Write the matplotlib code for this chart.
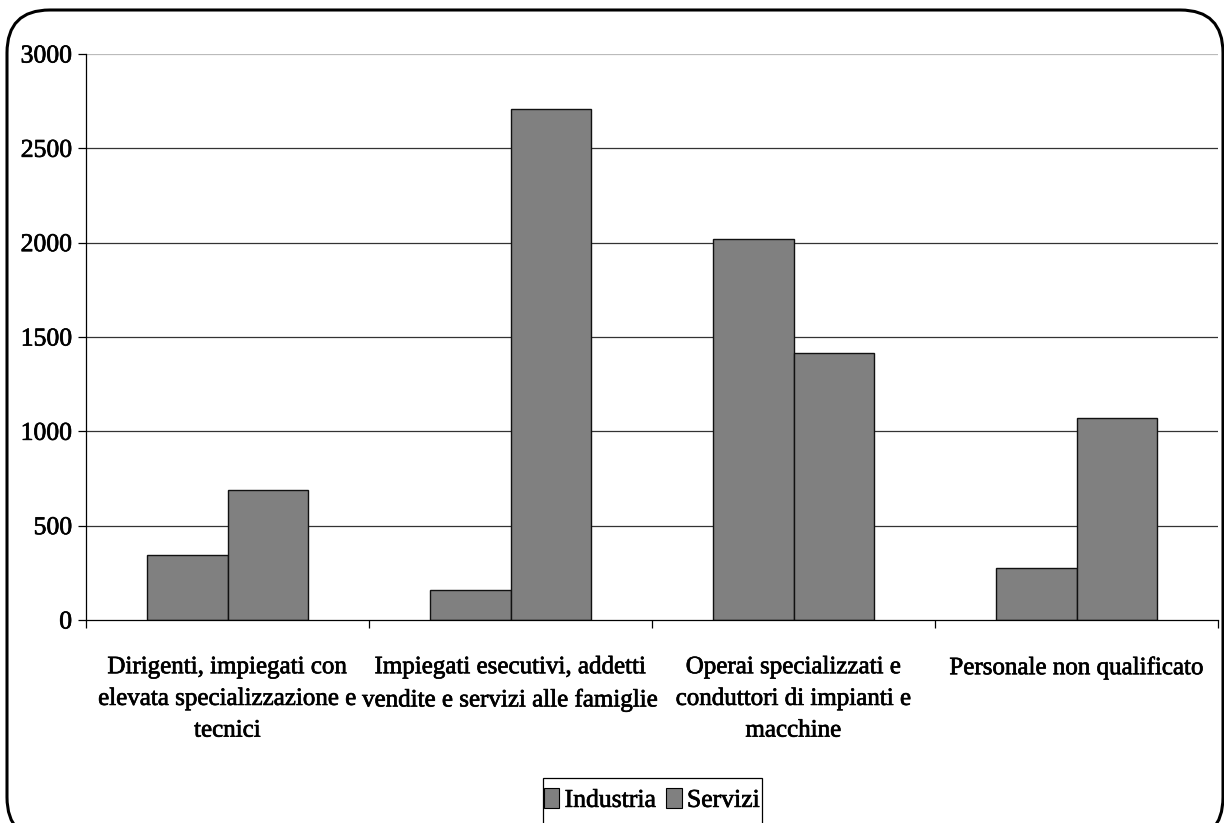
import matplotlib
matplotlib.use("Agg")
import matplotlib.pyplot as plt
import matplotlib.patheffects as pe
from matplotlib.patches import FancyBboxPatch, Patch, Rectangle
import numpy as np

# Data
categories = [
    "Dirigenti, impiegati con\nelevata specializzazione e\ntecnici",
    "Impiegati esecutivi, addetti\nvendite e servizi alle famiglie",
    "Operai specializzati e\nconduttori di impianti e\nmacchine",
    "Personale non qualificato",
]
series_names = ["Industria", "Servizi"]
industria = [342, 158, 2020, 275]
servizi = [688, 2710, 1416, 1069]
y_ticks = [0, 500, 1000, 1500, 2000, 2500, 3000]

plt.rcParams["font.family"] = ["Liberation Serif", "DejaVu Serif"]
heavy = [pe.withStroke(linewidth=0.5, foreground="black")]

W, H = 1224, 823
fig = plt.figure(figsize=(W / 100, H / 100), dpi=100)

# rounded chart-area frame
frame = FancyBboxPatch((7 / W, (H - 840) / H), 1216 / W, 830 / H,
                       boxstyle="round,pad=0,rounding_size=0.035",
                       transform=fig.transFigure, facecolor="none",
                       edgecolor="black", linewidth=2.2, mutation_aspect=W / H,
                       clip_on=False, zorder=-1)
fig.patches.append(frame)

ax = fig.add_axes([86 / W, 1 - 620 / H, (1218 - 86) / W, (620 - 54) / H])
ax.set_facecolor("none")

x = np.arange(len(categories))
bw = 0.285
bar_kw = dict(color="#808080", edgecolor="#111111", linewidth=1.0, zorder=3)
ax.bar(x - bw / 2, industria, bw, label=series_names[0], **bar_kw)
ax.bar(x + bw / 2, servizi, bw, label=series_names[1], **bar_kw)

ax.set_xlim(-0.5, len(categories) - 0.5)
ax.set_ylim(0, 3000)
ax.set_yticks(y_ticks)
ax.set_yticklabels([str(v) for v in y_ticks], fontsize=18.5)
for t in ax.get_yticklabels():
    t.set_path_effects(heavy)

for v in y_ticks[1:]:
    ax.axhline(v, color="#333333" if v < 3000 else "#bbbbbb", linewidth=0.9, zorder=1)

# category ticks sit on the group boundaries
ax.set_xticks(np.arange(len(categories) + 1) - 0.5)
ax.set_xticklabels([])
ax.tick_params(axis="x", direction="out", length=6, width=0.9, color="black")
ax.tick_params(axis="y", direction="out", length=6, width=0.9, color="black", pad=4)
for i, lab in enumerate(categories):
    ax.text(i, -0.064, lab, transform=ax.get_xaxis_transform(), ha="center", va="top",
            fontsize=18, linespacing=1.57, path_effects=heavy)

for s in ["top", "right"]:
    ax.spines[s].set_visible(False)
for s in ["left", "bottom"]:
    ax.spines[s].set_linewidth(0.9)
    ax.spines[s].set_color("black")
ax.spines["bottom"].set_zorder(4)

# legend box, running past the lower edge of the chart area
fig.patches.append(Rectangle((543 / W, (H - 850) / H), (762 - 543) / W, (850 - 778) / H,
                             transform=fig.transFigure, facecolor="white",
                             edgecolor="black", linewidth=0.9, clip_on=False))
handles = [Patch(facecolor="#808080", edgecolor="black", linewidth=0.8),
           Patch(facecolor="#808080", edgecolor="black", linewidth=0.8)]
leg = fig.legend(handles, series_names, loc="center",
                 bbox_to_anchor=(652 / W, 1 - 800 / H), ncol=2, fontsize=18.5,
                 frameon=False, handlelength=0.6, handleheight=0.8,
                 handletextpad=0.2, columnspacing=0.4, borderaxespad=0)
for t in leg.get_texts():
    t.set_path_effects(heavy)

fig.savefig("out.png", dpi=100)
